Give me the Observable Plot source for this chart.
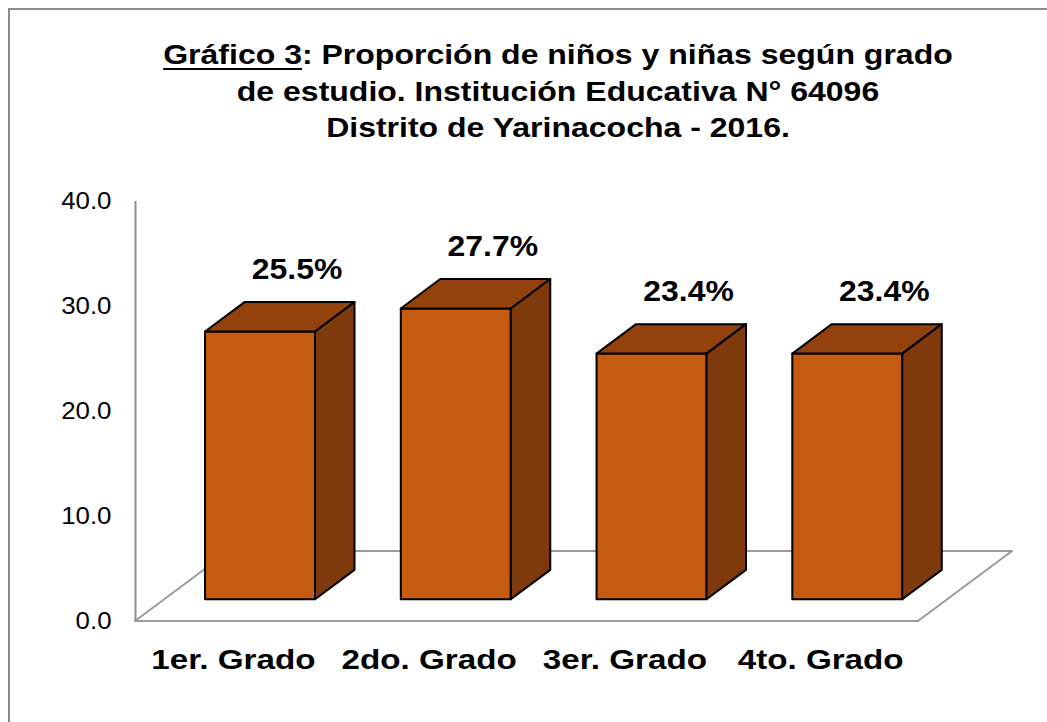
<!DOCTYPE html>
<html>
<head>
<meta charset="utf-8">
<script src="https://cdn.jsdelivr.net/npm/d3@7"></script>
<script src="https://cdn.jsdelivr.net/npm/@observablehq/plot@0.6"></script>
<style>
  body { margin: 0; background: #fff; }
  #wrap { position: relative; width: 1047px; height: 722px; overflow: hidden; font-family: "Liberation Sans", Arial, sans-serif; }
  #frame { position: absolute; left: 8px; top: 8px; width: 1100px; height: 800px; border: 2px solid #8c8c8c; box-sizing: border-box; }
  #title { position: absolute; left: 58px; width: 1000px; top: 37px; text-align: center; font-weight: bold; font-size: 28px; line-height: 36.5px; color: #000; transform: scaleX(1.143); transform-origin: 500px 0; }
  #title u { text-decoration-thickness: 2px; text-underline-offset: 4px; }
  #chart { position: absolute; left: 0; top: 160px; }
</style>
</head>
<body>
<div id="wrap">
  <div id="frame"></div>
  <div id="title"><u>Gráfico 3</u>: Proporción de niños y niñas según grado<br>de estudio. Institución Educativa N° 64096<br>Distrito de Yarinacocha - 2016.</div>
  <div id="chart"></div>
</div>
<script>
// ---- data ----
const categories = ["1er. Grado", "2do. Grado", "3er. Grado", "4to. Grado"];
const values = [25.5, 27.7, 23.4, 23.4];
const valueLabels = ["25.5%", "27.7%", "23.4%", "23.4%"];
const yTicks = [0, 10, 20, 30, 40];

// ---- 3D geometry (in scale units) ----
const depthX = 0.48, depthY = 6.67;   // full floor depth
const tF = 0.31, tB = 0.73;           // bar front / back depth fraction
const center = 0.49, half = 0.281;    // bar center & half width within category slot

const rows = categories.map((c, i) => ({ c, i, v: values[i], label: valueLabels[i] }));

const fronts = rows.map(d => ({
  i: d.i,
  x1: d.i + center - half + tF * depthX,
  x2: d.i + center + half + tF * depthX,
  y1: tF * depthY,
  y2: tF * depthY + d.v
}));
const tops = rows.flatMap(d => [
  { i: d.i, y: tF * depthY + d.v, x1: d.i + center - half + tF * depthX, x2: d.i + center + half + tF * depthX },
  { i: d.i, y: tB * depthY + d.v, x1: d.i + center - half + tB * depthX, x2: d.i + center + half + tB * depthX }
]);
const sides = rows.flatMap(d => [
  { i: d.i, x: d.i + center + half + tF * depthX, y1: tF * depthY, y2: tF * depthY + d.v },
  { i: d.i, x: d.i + center + half + tB * depthX, y1: tB * depthY, y2: tB * depthY + d.v }
]);
const floor = [
  { y: 0, x1: 0, x2: categories.length },
  { y: depthY, x1: depthX, x2: categories.length + depthX }
];

const chart = Plot.plot({
  width: 1047,
  height: 562,
  marginLeft: 135,
  marginRight: 129,
  marginTop: 41,
  marginBottom: 101,
  style: { fontFamily: "'Liberation Sans', Arial, sans-serif", color: "#000", background: "transparent", overflow: "visible" },
  x: { domain: [0, categories.length], axis: null },
  y: { domain: [yTicks[0], yTicks[yTicks.length - 1]], axis: null },
  marks: [
    Plot.areaX(floor, { y: "y", x1: "x1", x2: "x2", fill: "#fff", stroke: "#9a9a9a", strokeWidth: 2 }),
    Plot.ruleX([0], { y1: yTicks[0], y2: yTicks[yTicks.length - 1], stroke: "#8c8c8c", strokeWidth: 2 }),
    Plot.axisY(yTicks, { tickSize: 0, tickPadding: 24, tickFormat: d => d.toFixed(1), fontSize: 23.5, fill: "#000" }),
    Plot.rect(fronts, { x1: "x1", x2: "x2", y1: "y1", y2: "y2", fill: "#C55A11", stroke: "#000", strokeWidth: 2, strokeLinejoin: "round" }),
    Plot.areaX(tops, { y: "y", x1: "x1", x2: "x2", z: "i", fill: "#93420E", stroke: "#000", strokeWidth: 2, strokeLinejoin: "round" }),
    Plot.areaY(sides, { x: "x", y1: "y1", y2: "y2", z: "i", fill: "#7E390D", stroke: "#000", strokeWidth: 2, strokeLinejoin: "round" }),
    Plot.text(rows, { x: d => d.i + 0.5, y: yTicks[0], text: "c", lineAnchor: "bottom", dy: 47, fontSize: 28, fontWeight: "bold", fill: "#000" }),
    Plot.text(rows, { x: d => d.i + center + tB * depthX - 0.015, y: d => d.v + tB * depthY, text: "label", lineAnchor: "bottom", dy: -24, fontSize: 29, fontWeight: "bold", fill: "#000" })
  ]
});
document.getElementById("chart").appendChild(chart);

// Horizontally stretch the text a little, like the reference rendering
const stretchBySize = { "23.5": 1.1, "28": 1.185, "29": 1.1 };
chart.querySelectorAll("g[font-size]").forEach(g => {
  const s = stretchBySize[g.getAttribute("font-size")] || 1.1;
  g.querySelectorAll("text").forEach(t => {
    const len = t.getComputedTextLength();
    if (len > 0) {
      t.setAttribute("textLength", (len * s).toFixed(1));
      t.setAttribute("lengthAdjust", "spacingAndGlyphs");
    }
  });
});
</script>
</body>
</html>
